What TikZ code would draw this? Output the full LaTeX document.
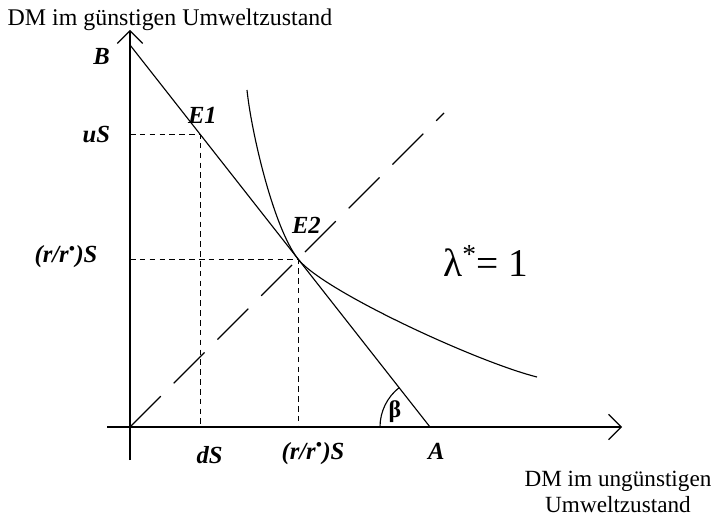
\documentclass[tikz,border=0pt]{standalone}
\usepackage{fontspec}
\setmainfont{Liberation Serif}
\usetikzlibrary{arrows.meta,calc}

\begin{document}
\begin{tikzpicture}[>={Straight Barb[length=9pt,width=18pt]}, line width=0.8pt]
	\tikzstyle{guide}=[line width=0.6pt, dash pattern=on 4pt off 3pt]
	\tikzstyle{diag}=[line width=0.8pt, dash pattern=on 31pt off 13pt]
	\tikzstyle{lbl}=[font=\fontsize{17.5}{20}\selectfont\bfseries\itshape, inner sep=1pt]
	\tikzstyle{axlbl}=[font=\fontsize{17}{19.5}\selectfont, align=center, inner sep=0pt]

	\newcommand{\rrS}{(r/r\textsuperscript{\textbullet})S}

	\useasboundingbox (-3.25,-2.25) rectangle (14.65,10.675);

	\coordinate (O) at (0,0);
	\coordinate (B) at (0,9.55);
	\coordinate (A) at (7.5,0);
	\coordinate (E1) at ($(B)!0.2333!(A)$);
	\coordinate (E2) at (4.2,4.2);
	\coordinate (ytop) at (0,9.925);
	\coordinate (ybot) at (0,-0.825);
	\coordinate (xl) at (-0.575,0);
	\coordinate (xr) at (12.3,0);
	\coordinate (D) at (7.85,7.85);
	\coordinate (Ctop) at (2.925,8.425);
	\coordinate (Cend) at (10.175,1.25);

	\draw [->] (ybot) -- (ytop);
	\draw [->] (xl) -- (xr);

	\draw [guide] (O |- E1) -- (E1) -- (E1 |- O);
	\draw [guide] (O |- E2) -- (E2) -- (E2 |- O);

	\draw [diag] (O) -- (D);
	\draw (B) -- (A);
	\draw (Ctop) .. controls (3.025,7.425) and (3.575,5.0) .. (E2) .. controls (4.825,3.404) and (8.675,1.625) .. (Cend);
	\draw ($(A)+(-1.25,0)$) arc (180:128.15:1.25);

	\node (Blbl) [lbl] at (-0.71,9.26) {B};
	\node (uS) [lbl] at (-0.84,7.31) {uS};
	\node (rrSy) [lbl] at (-1.6,4.25) {\rrS};
	\node (E1lbl) [lbl] at (1.81,7.8) {E1};
	\node (E2lbl) [lbl] at (4.41,5.05) {E2};
	\node (dS) [lbl] at (1.99,-0.69) {dS};
	\node (rrSx) [lbl] at (4.575,-0.66) {\rrS};
	\node (Albl) [lbl] at (7.66,-0.6) {A};
	\node (beta) [font=\fontsize{17}{19}\selectfont\bfseries, inner sep=0pt] at (6.625,0.375) {β};
	\node (lam) [font=\fontsize{28}{30}\selectfont, inner sep=0pt] at (8.9,4.15) {λ\textsuperscript{*}= 1};

	\node (ylab) [axlbl] at (1.0,10.175) {DM im günstigen Umweltzustand};
	\node (xlab) [axlbl, font=\fontsize{16.5}{19}\selectfont] at (12.2,-1.62) {DM im ungünstigen\\Umweltzustand};
\end{tikzpicture}
\end{document}
